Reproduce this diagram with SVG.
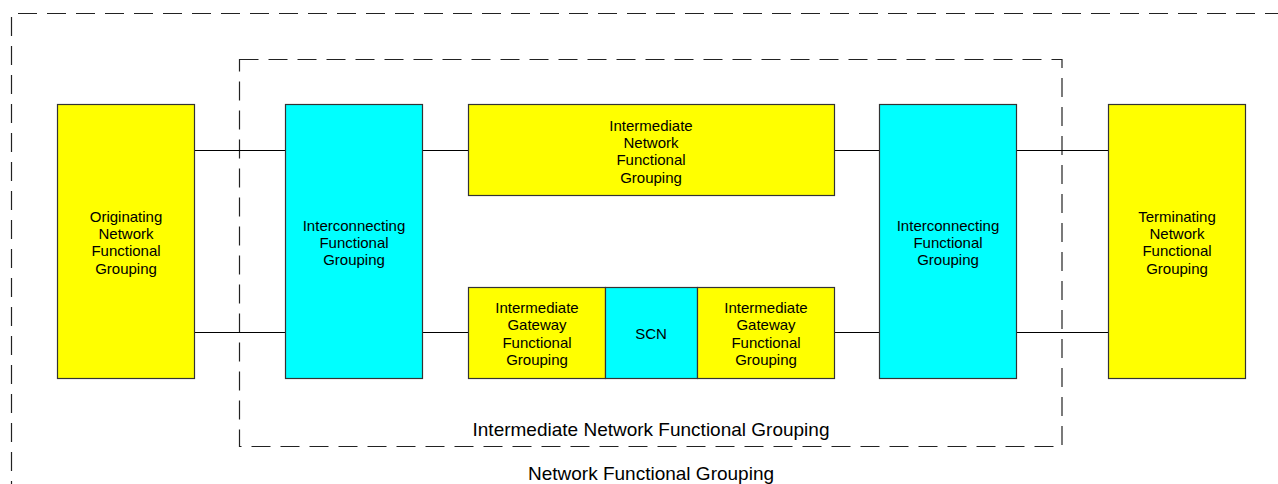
<svg xmlns="http://www.w3.org/2000/svg" width="1278" height="484" viewBox="0 0 1278 484">
<style>
.y{fill:#ffff00;stroke:#333;stroke-width:1.2}
.c{fill:#00ffff;stroke:#333;stroke-width:1.2}
.d{fill:none;stroke:#222;stroke-width:1.2;stroke-dasharray:19 10}
.l{stroke:#000;stroke-width:1.2;fill:none}
text{font-family:"Liberation Sans",Arial,sans-serif;font-size:15px;fill:#000;text-anchor:middle}
.big{font-size:19px}
</style>
<rect width="1278" height="484" fill="#fff"/>
<g id="outer-group">
<path class="d" d="M11.5 500 L11.5 13.5 L1300 13.5"/>
<text class="big" x="651" y="480">Network Functional Grouping</text>
</g>
<g id="inner-group">
<rect class="d" x="239.5" y="59.5" width="822.5" height="387"/>
<text class="big" x="651" y="436">Intermediate Network Functional Grouping</text>
</g>
<g id="connectors">
<path class="l" d="M194 150.5H285M422 150.5H468M834 150.5H879M1016 150.5H1108"/>
<path class="l" d="M194 332.5H285M422 332.5H468M834 332.5H879M1016 332.5H1108"/>
</g>
<g id="originating">
<rect class="y" x="57.5" y="104.5" width="137" height="274"/>
<text x="126" y="222">Originating</text><text x="126" y="239">Network</text><text x="126" y="256">Functional</text><text x="126" y="274">Grouping</text>
</g>
<g id="interconnecting-left">
<rect class="c" x="285.5" y="104.5" width="137" height="274"/>
<text x="354" y="231">Interconnecting</text><text x="354" y="248">Functional</text><text x="354" y="265">Grouping</text>
</g>
<g id="intermediate-network">
<rect class="y" x="468.5" y="104.5" width="366" height="91"/>
<text x="651" y="131">Intermediate</text><text x="651" y="148">Network</text><text x="651" y="165">Functional</text><text x="651" y="183">Grouping</text>
</g>
<g id="gateway-left">
<rect class="y" x="468.5" y="287.5" width="137" height="91"/>
<text x="537" y="313">Intermediate</text><text x="537" y="330">Gateway</text><text x="537" y="348">Functional</text><text x="537" y="365">Grouping</text>
</g>
<g id="scn">
<rect class="c" x="605.5" y="287.5" width="92" height="91"/>
<text x="651" y="339">SCN</text>
</g>
<g id="gateway-right">
<rect class="y" x="697.5" y="287.5" width="137" height="91"/>
<text x="766" y="313">Intermediate</text><text x="766" y="330">Gateway</text><text x="766" y="348">Functional</text><text x="766" y="365">Grouping</text>
</g>
<g id="interconnecting-right">
<rect class="c" x="879.5" y="104.5" width="137" height="274"/>
<text x="948" y="231">Interconnecting</text><text x="948" y="248">Functional</text><text x="948" y="265">Grouping</text>
</g>
<g id="terminating">
<rect class="y" x="1108.5" y="104.5" width="137" height="274"/>
<text x="1177" y="222">Terminating</text><text x="1177" y="239">Network</text><text x="1177" y="256">Functional</text><text x="1177" y="274">Grouping</text>
</g>
</svg>
